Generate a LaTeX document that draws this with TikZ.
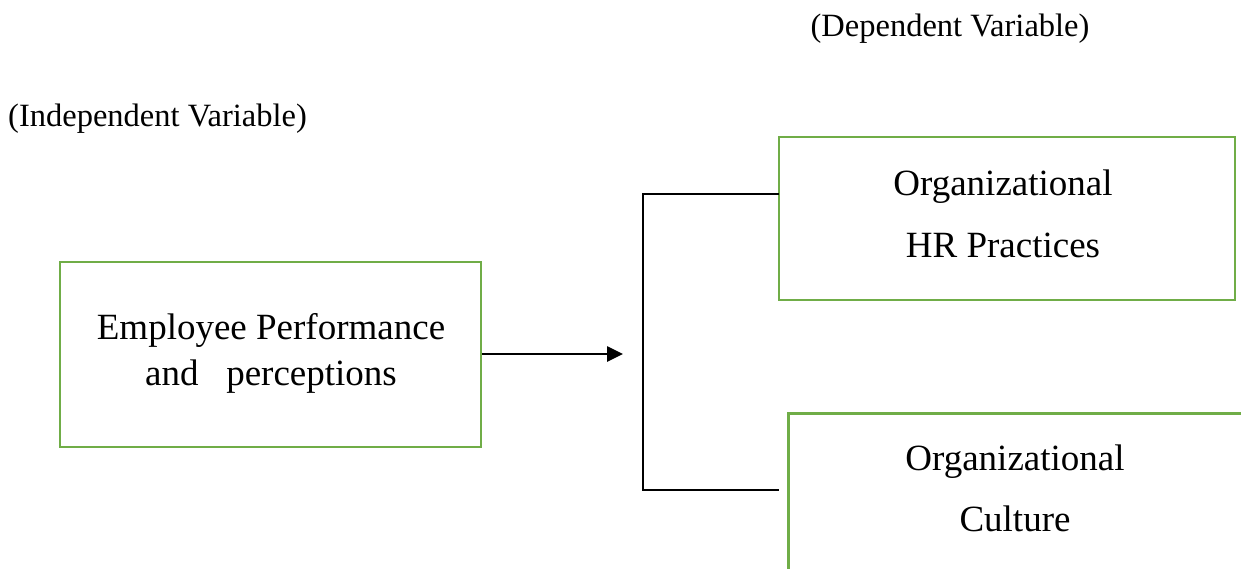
\documentclass[tikz,border=0pt]{standalone}
\usepackage{fontspec}
\setmainfont{Liberation Serif}
\usetikzlibrary{arrows.meta}
\definecolor{boxgreen}{RGB}{112,173,71}
\begin{document}
\begin{tikzpicture}[x=1pt,y=-1pt,
  gbox/.style={draw=boxgreen,line width=2.6pt,rectangle,inner sep=0pt},
  lbl/.style={font=\fontsize{32.5}{39}\selectfont,inner sep=0pt},
  btext/.style={font=\fontsize{37}{46}\selectfont,align=center,inner sep=0pt},
  conn/.style={draw=black,line width=2.6pt}]
\useasboundingbox (0,0) rectangle (1241,569);
\clip (0,0) rectangle (1241,569);
\node[lbl] (dep) at (950,29) {(Dependent Variable)};
\node[lbl,anchor=west] (indep) at (8,119) {(Independent Variable)};
\node[gbox,minimum width=421pt,minimum height=185pt] (emp) at (270.5,354.5) {};
\node[btext] (empt) at (271,353) {Employee Performance\\ and\ \ \ perceptions};
\node[gbox,minimum width=456pt,minimum height=163pt] (hr) at (1007,218.5) {};
\node[btext,font=\fontsize{37}{62}\selectfont] (hrt) at (1003,214) {Organizational\\HR Practices};
\node[gbox,anchor=north west,minimum width=480pt,minimum height=200pt] (cult) at (787,412) {};
\node[btext,font=\fontsize{37}{61}\selectfont] (cultt) at (1015,488.5) {Organizational\\Culture};
\coordinate (tip) at (623,354);
\coordinate (btop) at (643,194);
\coordinate (bbot) at (643,490);
\coordinate (etop) at (779,194);
\coordinate (ebot) at (779,490);
\draw[conn,-{Triangle[length=16pt,width=15pt]}] (emp.east |- tip) -- (tip);
\draw[conn] (etop) -- (btop) -- (bbot) -- (ebot);
\end{tikzpicture}
\end{document}
